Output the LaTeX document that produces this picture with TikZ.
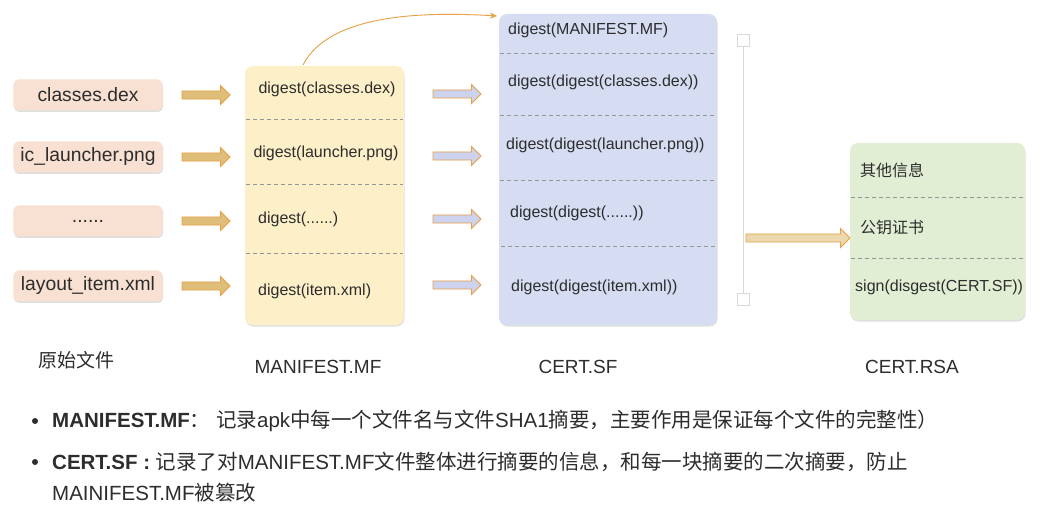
\documentclass[tikz,border=0pt]{standalone}
\usepackage{fontspec}
\setmainfont{Liberation Sans}
\newfontfamily\cjk{Noto Sans CJK SC}
\usetikzlibrary{shapes.arrows,shadows,arrows.meta}
\definecolor{peach}{RGB}{248,225,210}
\definecolor{mfy}{RGB}{253,240,200}
\definecolor{sfb}{RGB}{214,221,242}
\definecolor{rsag}{RGB}{225,238,212}
\definecolor{org}{RGB}{232,160,70}
\definecolor{arrf}{RGB}{222,190,120}
\definecolor{arrb}{RGB}{205,210,238}
\definecolor{txt}{RGB}{45,45,45}
\definecolor{dashc}{RGB}{150,150,150}
\newcommand{\zh}[1]{{\cjk #1}}
\tikzset{
  filebox/.style={rounded corners=5bp,fill=peach,minimum width=149bp,minimum height=31bp,inner sep=0,font=\fontsize{19.3bp}{20bp}\selectfont,text=txt,drop shadow={shadow xshift=0.5bp,shadow yshift=-1.5bp,opacity=0.25}},
  panel/.style={rounded corners=8bp,inner sep=0,drop shadow={shadow xshift=0.5bp,shadow yshift=-1.5bp,opacity=0.25}},
  cell/.style={font=\fontsize{16bp}{16bp}\selectfont,text=txt,inner sep=0},
  sep/.style={dashc,dashed,dash pattern=on 4bp off 3bp,line width=0.7bp},
  fat/.style={single arrow,draw=org,line width=0.9bp,minimum height=48bp,minimum width=19bp,single arrow head extend=5bp,inner sep=3.2bp},
  lbl/.style={font=\fontsize{19bp}{20bp}\selectfont,text=txt,inner sep=0},
  bul/.style={font=\fontsize{20.5bp}{20bp}\selectfont,text=txt,inner sep=0,anchor=west},
}
\begin{document}
\begin{tikzpicture}[x=1bp,y=-1bp]
\useasboundingbox[fill=white] (0,0) rectangle (1055,511);
% files
\node[filebox] (f1) at (88,95) {classes.dex};
\node[filebox] (f2) at (88,157) {ic\_launcher.png};
\node[filebox] (f3) at (88,221) {......};
\node[filebox] (f4) at (88,286) {layout\_item.xml};
% arrows to MF
\foreach \y/\n in {95/a1,157/a2,221/a3,286/a4}
  \node[fat,fill=arrf] (\n) at (204,\y) {};
% MANIFEST
\node[panel,fill=mfy,minimum width=159bp,minimum height=259bp] (mf) at (324.5,195.5) {};
\draw[sep] (246,119) -- (403,119) (246,184) -- (403,184) (246,253) -- (403,253);
\node[cell] (m1) at (327,89) {digest(classes.dex)};
\node[cell] (m2) at (326,153) {digest(launcher.png)};
\node[cell,anchor=west] (m3) at (258,219) {digest(......)};
\node[cell,anchor=west] (m4) at (258,291) {digest(item.xml)};
% arrows to SF
\foreach \y/\n in {94/b1,156/b2,219/b3,285/b4}
  \node[fat,fill=arrb] (\n) at (455,\y) {};
% CERT.SF
\node[panel,fill=sfb,minimum width=218bp,minimum height=311bp] (sf) at (608,169.5) {};
\draw[sep] (500,53) -- (716,53) (500,115) -- (716,115) (500,180) -- (716,180) (501,246) -- (716,246);
\node[cell,anchor=west] (s1) at (508,30) {digest(MANIFEST.MF)};
\node[cell,anchor=west] (s2) at (508,82) {digest(digest(classes.dex))};
\node[cell,anchor=west] (s3) at (506,145) {digest(digest(launcher.png))};
\node[cell,anchor=west] (s4) at (510,213) {digest(digest(......))};
\node[cell,anchor=west] (s5) at (511,287) {digest(digest(item.xml))};
% curve
\coordinate (cs) at (303,65);
\coordinate (ce) at (497,16);
\draw[org,line width=0.9bp,-{Stealth[length=7bp,width=6bp]}] (cs) .. controls (330,12) and (430,12) .. (ce);
% bracket
\node[draw=black!15,fill=white,minimum size=12bp,inner sep=0,line width=0.8bp] (q1) at (743,40) {};
\node[draw=black!15,fill=white,minimum size=12bp,inner sep=0,line width=0.8bp] (q2) at (743,299) {};
\draw[black!15,line width=0.8bp] (q1) -- (q2);
% big arrow
\node[single arrow,draw=org,fill=arrf!60,line width=0.9bp,minimum height=104bp,minimum width=19bp,single arrow head extend=5bp,inner sep=3.2bp] (big) at (796,238) {};
% CERT.RSA
\node[panel,fill=rsag,minimum width=175bp,minimum height=177bp] (rsa) at (937.5,231.5) {};
\draw[sep] (851,197) -- (1024,197) (851,258) -- (1024,258);
\node[cell,anchor=west] (r1) at (860,170) {\zh{其他信息}};
\node[cell,anchor=west] (r2) at (860,227) {\zh{公钥证书}};
\node[cell,anchor=west] (r3) at (855,287) {sign(disgest(CERT.SF))};
% labels
\node[lbl,anchor=west] (l1) at (38,360) {\zh{原始文件}};
\node[lbl] (l2) at (318,367) {MANIFEST.MF};
\node[lbl] (l3) at (578,367) {CERT.SF};
\node[lbl] (l4) at (912,367) {CERT.RSA};
% bullets
\fill[txt] (35,421) circle (3bp) (35,462) circle (3bp);
\node[bul] (t1) at (52,421) {\textbf{MANIFEST.MF}\zh{：\;记录}apk\zh{中每一个文件名与文件}SHA1\zh{摘要，主要作用是保证每个文件的完整性）}};
\node[bul] (t2) at (52,462) {\textbf{CERT.SF :} \zh{记录了对}MANIFEST.MF\zh{文件整体进行摘要的信息，和每一块摘要的二次摘要，防止}};
\node[bul] (t3) at (52,493) {MAINIFEST.MF\zh{被篡改}};
\end{tikzpicture}
\end{document}
